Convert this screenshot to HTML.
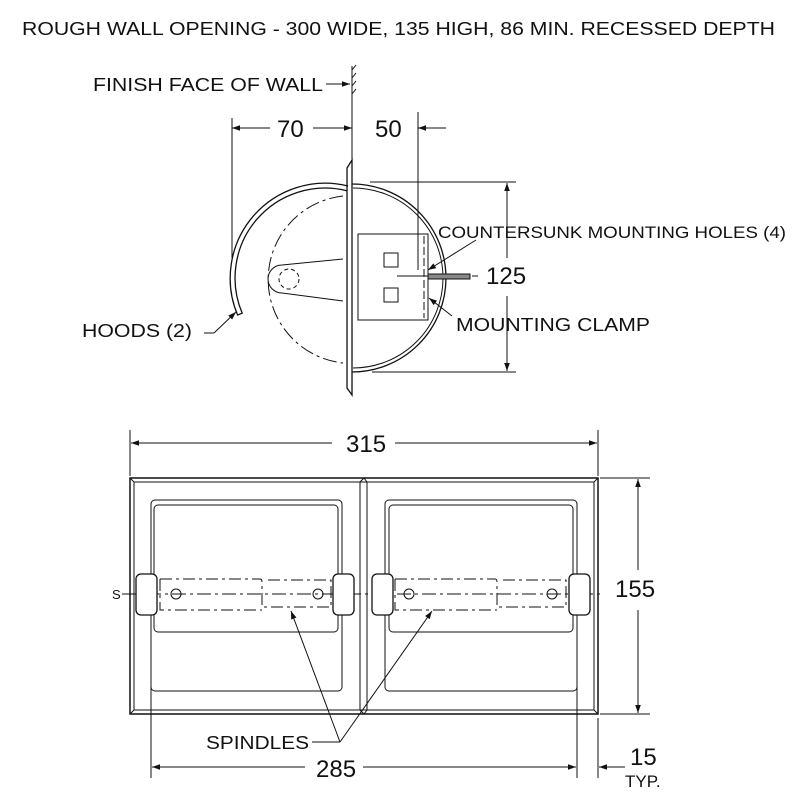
<!DOCTYPE html>
<html><head><meta charset="utf-8"><style>html,body{margin:0;padding:0;background:#fff}svg{display:block}text{font-family:"Liberation Sans",sans-serif;fill:#111}</style></head><body>
<svg width="800" height="800" viewBox="0 0 800 800" xmlns="http://www.w3.org/2000/svg">
<defs>
<marker id="a" viewBox="0 0 10 10" refX="10" refY="5" markerWidth="10" markerHeight="8" orient="auto-start-reverse" markerUnits="userSpaceOnUse"><path d="M0,1.5 L10,5 L0,8.5 Z" fill="#111"/></marker>
</defs>
<g stroke="#111" fill="none" stroke-width="1">
<!-- top view -->
<line x1="352" y1="66" x2="352" y2="170"/>
<path d="M352,70 l4,-5 M352,78 l4,-5 M352,86 l4,-5 M352,94 l4,-5" />
<line x1="326" y1="84" x2="350" y2="84" marker-end="url(#a)"/>
<line x1="232" y1="118" x2="232" y2="258"/>
<line x1="418" y1="112" x2="418" y2="270"/>
<line x1="270" y1="128" x2="232" y2="128" marker-end="url(#a)"/>
<line x1="313" y1="128" x2="352" y2="128" marker-end="url(#a)"/>
<line x1="446" y1="128" x2="418" y2="128" marker-end="url(#a)"/>
<!-- wall plate -->
<path d="M347,168 L352,160 L352,395 L347,388 Z" stroke-width="1.3"/>
<!-- hood -->
<path d="M348,186 A95,95 0 0 0 237.6,315 L242.2,313.2 A90,90 0 0 1 346.8,190.7" stroke-width="1.3"/>
<path d="M352,184 A94,94 0 0 1 352,372" stroke-width="1.3"/>
<path d="M353,188 A90,90 0 0 1 353,368"/>
<path d="M343,196 A84,84 0 0 0 343,363" stroke-dasharray="14,4,3,4"/>
<!-- bracket -->
<path d="M343,259 L282,265 A14,14 0 0 0 282,293 L343,301"/>
<circle cx="289" cy="279" r="10" stroke-dasharray="4,3"/>
<!-- clamp -->
<rect x="358" y="234" width="70" height="86"/>
<line x1="424" y1="236" x2="424" y2="318" stroke-dasharray="8,3"/>
<rect x="384" y="253" width="14" height="14"/>
<rect x="384" y="288" width="14" height="14"/>
<line x1="397" y1="276" x2="428" y2="276"/>
<rect x="428" y="274" width="42" height="5" fill="#888"/>
<line x1="472" y1="276" x2="478" y2="276"/>
<line x1="476" y1="240" x2="428" y2="270" marker-end="url(#a)"/>
<line x1="452" y1="316" x2="429" y2="298" marker-end="url(#a)"/>
<line x1="204" y1="333" x2="214" y2="333"/>
<line x1="214" y1="333" x2="236" y2="312" marker-end="url(#a)"/>
<!-- 125 dim -->
<line x1="370" y1="182" x2="516" y2="182"/>
<line x1="372" y1="372" x2="516" y2="372"/>
<line x1="507" y1="258" x2="507" y2="183" marker-end="url(#a)"/>
<line x1="507" y1="296" x2="507" y2="371" marker-end="url(#a)"/>
<!-- front view -->
<line x1="130" y1="430" x2="130" y2="476"/>
<line x1="598" y1="430" x2="598" y2="476"/>
<line x1="332" y1="443" x2="131" y2="443" marker-end="url(#a)"/>
<line x1="395" y1="443" x2="597" y2="443" marker-end="url(#a)"/>
<rect x="130" y="478" width="468" height="236" stroke-width="1.5"/>
<rect x="134" y="482" width="460" height="228"/>
<line x1="130" y1="478" x2="134" y2="482"/><line x1="598" y1="478" x2="594" y2="482"/>
<line x1="130" y1="714" x2="134" y2="710"/><line x1="598" y1="714" x2="594" y2="710"/>
<line x1="360" y1="482" x2="360" y2="710"/><line x1="367" y1="482" x2="367" y2="710"/>
<path d="M360,482 L364,478 L367,482 M360,710 L364,714 L367,710"/>
<!-- panels -->
<rect x="151" y="500" width="191" height="191" rx="4"/>
<rect x="154" y="505" width="184" height="127" rx="4"/>
<rect x="385" y="500" width="192" height="191" rx="4"/>
<rect x="389" y="505" width="184" height="127" rx="4"/>
<!-- spindles -->
<line x1="122" y1="594" x2="600" y2="594" stroke-dasharray="14,4,3,4"/>
<rect x="136" y="574" width="21" height="41" rx="5" fill="#fff" stroke-width="1.3"/>
<rect x="333" y="574" width="21" height="41" rx="5" fill="#fff" stroke-width="1.3"/>
<rect x="372" y="574" width="21" height="41" rx="5" fill="#fff" stroke-width="1.3"/>
<rect x="569" y="574" width="21" height="41" rx="5" fill="#fff" stroke-width="1.3"/>
<g stroke-dasharray="12,4,3,4">
<path d="M160,579 L260,579 Q262,579 262,582 L262,607 L331,607 L331,580 L265,580 M160,579 L160,610 L262,610"/>
<path d="M395,579 L495,579 Q497,579 497,582 L497,607 L566,607 L566,580 L500,580 M395,579 L395,610 L497,610"/>
</g>
<line x1="157" y1="580" x2="157" y2="609"/><line x1="333" y1="580" x2="333" y2="609"/>
<line x1="393" y1="580" x2="393" y2="609"/><line x1="569" y1="580" x2="569" y2="609"/>
<circle cx="176" cy="594" r="5"/><circle cx="318" cy="594" r="5"/>
<circle cx="409" cy="594" r="5"/><circle cx="552" cy="594" r="5"/>
<line x1="312" y1="742" x2="340" y2="742"/>
<line x1="340" y1="742" x2="291" y2="611" marker-end="url(#a)"/>
<line x1="340" y1="742" x2="432" y2="611" marker-end="url(#a)"/>
<!-- 155 dim -->
<line x1="600" y1="478" x2="650" y2="478"/>
<line x1="600" y1="714" x2="650" y2="714"/>
<line x1="638" y1="570" x2="638" y2="479" marker-end="url(#a)"/>
<line x1="638" y1="610" x2="638" y2="713" marker-end="url(#a)"/>
<!-- 285 / 15 -->
<line x1="151" y1="680" x2="151" y2="778"/>
<line x1="577" y1="680" x2="577" y2="778"/>
<line x1="598" y1="718" x2="598" y2="778"/>
<line x1="305" y1="767" x2="152" y2="767" marker-end="url(#a)"/>
<line x1="363" y1="767" x2="576" y2="767" marker-end="url(#a)"/>
<line x1="625" y1="767" x2="599" y2="767" marker-end="url(#a)"/>
</g>
<text x="22" y="35" font-size="18.5" textLength="753" lengthAdjust="spacingAndGlyphs">ROUGH WALL OPENING - 300 WIDE, 135 HIGH, 86 MIN. RECESSED DEPTH</text>
<text x="93" y="91" font-size="18" textLength="230" lengthAdjust="spacingAndGlyphs">FINISH FACE OF WALL</text>
<text x="277" y="137" font-size="24">70</text>
<text x="375" y="137" font-size="24">50</text>
<text x="438" y="238" font-size="16.5" textLength="348" lengthAdjust="spacingAndGlyphs">COUNTERSUNK MOUNTING HOLES (4)</text>
<text x="486" y="284" font-size="24">125</text>
<text x="456" y="331" font-size="18" textLength="194" lengthAdjust="spacingAndGlyphs">MOUNTING CLAMP</text>
<text x="82" y="337" font-size="18" textLength="110" lengthAdjust="spacingAndGlyphs">HOODS (2)</text>
<text x="346" y="452" font-size="24">315</text>
<text x="615" y="597" font-size="24">155</text>
<text x="112" y="599" font-size="13">S</text>
<text x="206" y="749" font-size="18" textLength="103" lengthAdjust="spacingAndGlyphs">SPINDLES</text>
<text x="316" y="777" font-size="24">285</text>
<text x="630" y="765" font-size="24">15</text>
<text x="625" y="787" font-size="17">TYP.</text>
</svg>
</body></html>
